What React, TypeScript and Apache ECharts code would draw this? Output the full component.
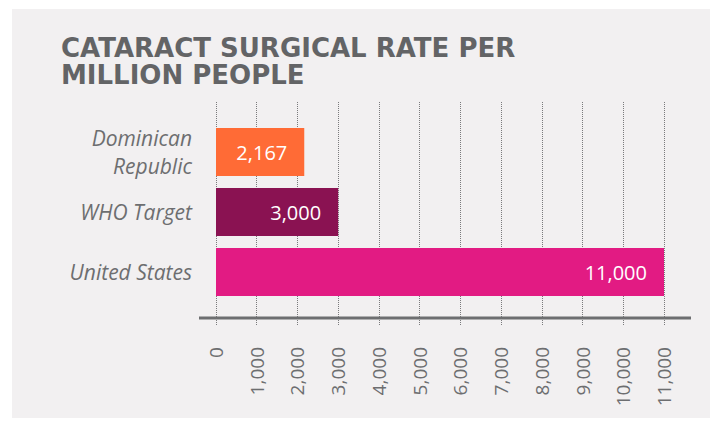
import React, { useEffect, useRef } from "react";
import * as echarts from "echarts";

const categories = ["Dominican\nRepublic", "WHO Target", "United States"];
const values = [2167, 3000, 11000];
const barColors = ["#ff6b36", "#8a1252", "#e21b83"];
const titleText = "CATARACT SURGICAL RATE PER\nMILLION PEOPLE";
const axisMin = 0;
const axisMax = 11000;
const axisInterval = 1000;

const fmt = (v: number) => String(v).replace(/\B(?=(\d{3})+(?!\d))/g, ",");

export default function App() {
  const ref = useRef<HTMLDivElement>(null);
  useEffect(() => {
    document.body.style.margin = "0";
    const chart = echarts.init(ref.current!, null, { renderer: "svg" });
    const font = "'Open Sans', sans-serif";
    chart.setOption({
      animation: false,
      backgroundColor: "#ffffff",
      title: {
        text: titleText,
        left: 56,
        top: 29,
        textStyle: {
          fontFamily: "'DejaVu Sans', sans-serif",
          fontSize: 26,
          fontWeight: "bold",
          color: "#636466",
          lineHeight: 27,
        },
      },
      graphic: [
        {
          type: "rect",
          z: -10,
          silent: true,
          shape: { x: 12, y: 9, width: 698, height: 409 },
          style: { fill: "#f2f0f1" },
        },
        {
          type: "line",
          z: 10,
          shape: { x1: 199, y1: 318, x2: 691, y2: 318 },
          style: { stroke: "#6d6e70", lineWidth: 3 },
        },
      ],
      grid: [
        { left: 216, right: 46, top: 122, height: 180, containLabel: false },
        { left: 216, right: 46, top: 102, bottom: 105, containLabel: false },
      ],
      xAxis: [
        {
          gridIndex: 0,
          type: "value",
          min: axisMin,
          max: axisMax,
          interval: axisInterval,
          show: false,
        },
        {
          gridIndex: 1,
          type: "value",
          min: axisMin,
          max: axisMax,
          interval: axisInterval,
          axisLine: { show: false },
          axisTick: {
            show: true,
            length: 8,
            lineStyle: { color: "#7a7a7c", type: "dotted", width: 1 },
          },
          splitLine: {
            show: true,
            lineStyle: { color: "#7a7a7c", type: "dotted", width: 1 },
          },
          axisLabel: {
            rotate: 90,
            margin: 29,
            fontFamily: font,
            fontSize: 19,
            color: "#6d6e70",
            formatter: (v: number) => fmt(v),
          },
        },
      ],
      yAxis: [
        {
          gridIndex: 0,
          type: "category",
          data: categories,
          inverse: true,
          axisLine: { show: false },
          axisTick: { show: false },
          splitLine: { show: false },
          axisLabel: {
            margin: 24,
            fontFamily: font,
            fontStyle: "italic",
            fontSize: 21,
            lineHeight: 28,
            color: "#6d6e70",
          },
        },
        {
          gridIndex: 1,
          type: "value",
          show: false,
        },
      ],
      series: [
        {
          type: "bar",
          xAxisIndex: 0,
          yAxisIndex: 0,
          barWidth: 48,
          z: 5,
          data: values.map((v, i) => ({ value: v, itemStyle: { color: barColors[i] } })),
          label: {
            show: true,
            position: "insideRight",
            distance: 17,
            color: "#ffffff",
            fontFamily: font,
            fontSize: 20,
            formatter: (p: any) => fmt(p.value),
          },
        },
      ],
    });
    return () => chart.dispose();
  }, []);
  return (
    <div
      ref={ref}
      style={{ position: "absolute", left: 0, top: 0, width: 710, height: 423 }}
    />
  );
}
